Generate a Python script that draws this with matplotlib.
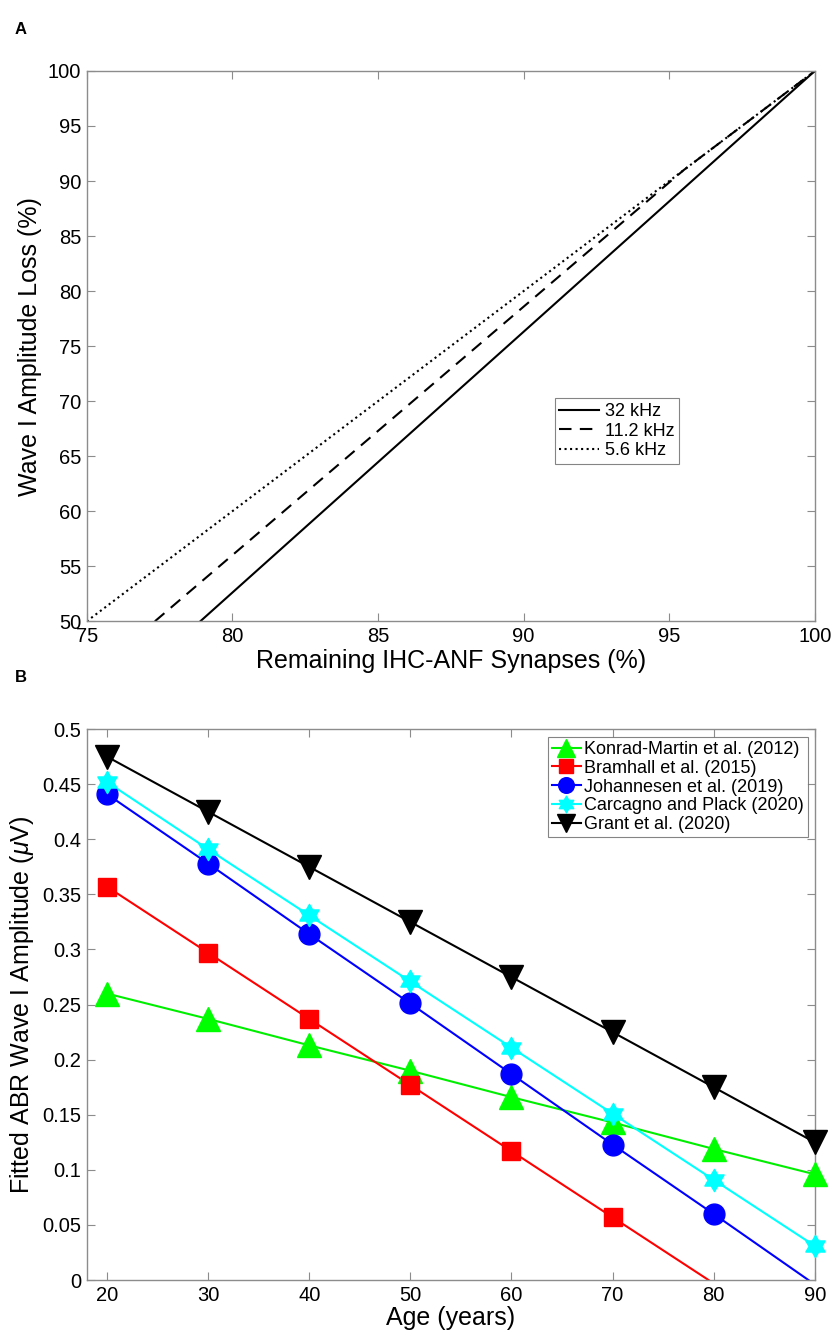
import matplotlib
matplotlib.use("Agg")
import matplotlib.pyplot as plt
from matplotlib.lines import Line2D
from matplotlib.path import Path
import numpy as np

plt.rcParams['font.family'] = ['Liberation Sans', 'DejaVu Sans']
plt.rcParams['mathtext.fontset'] = 'custom'
plt.rcParams['mathtext.it'] = 'Liberation Sans:italic'
plt.rcParams['mathtext.rm'] = 'Liberation Sans'

# Panel A data
a_x_32 = [78.9, 100.0]
a_y_32 = [50.0, 100.0]
a_x_112 = [77.34, 95.5, 100.0]
a_y_112 = [50.0, 91.0, 100.0]
a_x_56 = [75.0, 100.0]
a_y_56 = [50.0, 100.0]

# Panel B data
ages = [20, 30, 40, 50, 60, 70, 80, 90]
konrad = [0.260, 0.237, 0.213, 0.190, 0.166, 0.143, 0.119, 0.096]
bramhall = [0.357, 0.297, 0.237, 0.177, 0.117, 0.057, -0.003, -0.063]
johannesen = [0.441, 0.378, 0.314, 0.251, 0.187, 0.123, 0.060, -0.004]
carcagno = [0.452, 0.391, 0.331, 0.271, 0.211, 0.151, 0.091, 0.031]
grant = [0.475, 0.425, 0.375, 0.325, 0.275, 0.225, 0.175, 0.125]

# hexagram marker shape (MATLAB-style)
_ang = np.pi / 2 + np.arange(12) * np.pi / 6
_rad = np.where(np.arange(12) % 2 == 0, 1.0, 1.0 / np.sqrt(3))
_verts = np.column_stack([_rad * np.cos(_ang), _rad * np.sin(_ang)])
_verts = np.vstack([_verts, _verts[:1]])
HEXAGRAM = Path(_verts, [Path.MOVETO] + [Path.LINETO] * 11 + [Path.CLOSEPOLY])

fig = plt.figure(figsize=(8.34, 13.39), dpi=100)
spine_col = '#8c8c8c'
TICK_FS = 14.5
LABEL_FS = 18
LEG_FS = 13

def style(ax):
    for s in ax.spines.values():
        s.set_color(spine_col)
        s.set_linewidth(1.0)
    ax.tick_params(direction='in', top=True, right=True, length=6,
                   color=spine_col, labelsize=TICK_FS, labelcolor='black', pad=4)

# ---------- Panel A ----------
axA = fig.add_axes([0.104, 0.536, 0.873, 0.411])
axA.plot(a_x_32, a_y_32, '-', color='black', lw=1.5, label='32 kHz')
axA.plot(a_x_112, a_y_112, '--', color='black', lw=1.5, dashes=(6, 4), label='11.2 kHz')
axA.plot(a_x_56, a_y_56, ':', color='black', lw=1.5, label='5.6 kHz')
axA.set_xlim(75, 100)
axA.set_ylim(50, 100)
axA.set_xticks(np.arange(75, 101, 5))
axA.set_yticks(np.arange(50, 101, 5))
axA.set_xlabel('Remaining IHC-ANF Synapses (%)', fontsize=LABEL_FS, labelpad=2)
axA.set_ylabel('Wave I Amplitude Loss (%)', fontsize=LABEL_FS, labelpad=4)
style(axA)
legA = axA.legend(loc='lower left', bbox_to_anchor=(0.643, 0.286), fontsize=LEG_FS,
                  frameon=True, fancybox=False, handlelength=2.2, handletextpad=0.3,
                  borderpad=0.25, labelspacing=0.15, borderaxespad=0)
legA.get_frame().set_edgecolor('#666666')
legA.get_frame().set_linewidth(0.8)

# ---------- Panel B ----------
axB = fig.add_axes([0.104, 0.044, 0.873, 0.4115])
series = [
    ('Konrad-Martin et al. (2012)', konrad, '#00ee00', '#00ff00', '^', 17),
    ('Bramhall et al. (2015)', bramhall, '#ff0000', '#ff0000', 's', 13),
    ('Johannesen et al. (2019)', johannesen, '#0000ff', '#0000ff', 'o', 15),
    ('Carcagno and Plack (2020)', carcagno, '#00ffff', '#00ffff', HEXAGRAM, 16),
    ('Grant et al. (2020)', grant, 'black', 'black', 'v', 17),
]
handles = []
for label, vals, lc, fc, mk, ms in series:
    v = np.array(vals, dtype=float)
    axB.plot(ages, v, '-', color=lc, lw=1.5, zorder=2)
    vm = np.ma.masked_less(v, 0.0)
    axB.plot(ages, vm, linestyle='none', marker=mk, ms=ms, mfc=fc, mec=fc,
             clip_on=False, zorder=3)
    handles.append(Line2D([], [], color=lc, lw=1.5, marker=mk, ms=ms * 0.75,
                          mfc=fc, mec=fc, label=label))
axB.set_xlim(18, 90)
axB.set_ylim(0, 0.5)
axB.set_xticks(np.arange(20, 91, 10))
yt = np.round(np.arange(0, 0.501, 0.05), 2)
axB.set_yticks(yt)
axB.set_yticklabels(['0' if v == 0 else ('%g' % v) for v in yt])
axB.set_xlabel('Age (years)', fontsize=LABEL_FS, labelpad=1)
axB.set_ylabel('Fitted ABR Wave I Amplitude ($\\mu$V)', fontsize=LABEL_FS, labelpad=4)
style(axB)
legB = axB.legend(handles=handles, loc='upper right', bbox_to_anchor=(0.99, 0.985),
                  fontsize=LEG_FS, frameon=True, fancybox=False, handlelength=1.6,
                  handletextpad=0.2, borderpad=0.2, labelspacing=0.1, borderaxespad=0)
legB.get_frame().set_edgecolor('#666666')
legB.get_frame().set_linewidth(0.8)
legB.set_zorder(5)

fig.text(0.018, 0.978, 'A', fontsize=12, fontweight='bold', ha='left', va='center')
fig.text(0.018, 0.494, 'B', fontsize=12, fontweight='bold', ha='left', va='center')

fig.savefig('out.png', dpi=100)
